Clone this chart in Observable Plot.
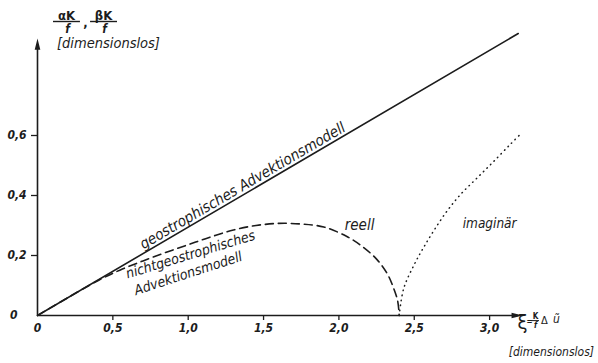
<!DOCTYPE html>
<html>
<head>
<meta charset="utf-8">
<script src="https://cdn.jsdelivr.net/npm/d3@7"></script>
<script src="https://cdn.jsdelivr.net/npm/@observablehq/plot@0.6"></script>
<style>
  html, body { margin: 0; padding: 0; background: #fff; }
</style>
</head>
<body>
<div id="chart"></div>
<script>
// Geostrophic advection model: straight line through the origin
const geoXi  = [0, 3.19];
const geoVal = [0, 0.94];

// Non-geostrophic advection model, real branch (dashed)
const realXi  = [0, 0.2, 0.4, 0.55, 0.7, 0.85, 1.0, 1.15, 1.3, 1.45, 1.6, 1.75, 1.9, 2.05, 2.15, 2.25, 2.32, 2.36, 2.39, 2.4];
const realVal = [0, 0.059, 0.116, 0.152, 0.182, 0.21, 0.236, 0.262, 0.285, 0.3, 0.307, 0.305, 0.295, 0.264, 0.232, 0.188, 0.14, 0.095, 0.048, 0];

// Imaginary branch (dotted)
const imagXi  = [2.4, 2.43, 2.5, 2.56, 2.63, 2.72, 2.81, 2.92, 3.03, 3.14, 3.21];
const imagVal = [0, 0.09, 0.17, 0.225, 0.283, 0.35, 0.405, 0.46, 0.515, 0.572, 0.607];

// Axis ticks and their labels
const xTicks = [0.5, 1, 1.5, 2, 2.5, 3];
const xTickLabels = ["0,5", "1,0", "1,5", "2,0", "2,5", "3,0"];
const yTicks = [0.2, 0.4, 0.6];
const yTickLabels = ["0,2", "0,4", "0,6"];

// Axis extents (arrow tips)
const xAxisEnd = 3.22;
const yAxisEnd = 0.923;

const ink = "#1c1c1c";
const font = "'DejaVu Sans Condensed', 'DejaVu Sans', sans-serif";

const toRows = (xs, vs) => xs.map((xi, i) => ({xi, v: vs[i]}));
const geo  = toRows(geoXi, geoVal);
const real = toRows(realXi, realVal);
const imag = toRows(imagXi, imagVal);

// Narrow filled arrowhead, tip at the anchor point, pointing up
const arrowHead = {
  draw(ctx, size) {
    const s = Math.sqrt(size / Math.PI);
    ctx.moveTo(0, 0);
    ctx.lineTo(-0.7 * s, 2.8 * s);
    ctx.lineTo(0.7 * s, 2.8 * s);
    ctx.closePath();
  }
};

// Curve labels (data coordinates)
const curveLabels = [
  {text: "geostrophisches Advektionsmodell", x: 1.36, y: 0.432, rotate: -30.4, size: 15},
  {text: "nichtgeostrophisches", x: 1.015, y: 0.203, rotate: -17, size: 14},
  {text: "Advektionsmodell", x: 1.0, y: 0.14, rotate: -18, size: 14},
  {text: "reell", x: 2.137, y: 0.30, rotate: 0, size: 15},
  {text: "imaginär", x: 3.0, y: 0.307, rotate: 0, size: 13.5}
];

// Axis titles: upright symbols
const titleUpright = [
  {text: "αK", x: 0.192, y: 1.0, size: 13},
  {text: ",", x: 0.318, y: 0.975, size: 13},
  {text: "βK", x: 0.438, y: 1.0, size: 13},
  {text: "K", x: 3.305, y: -0.003, size: 8},
  {text: "=", x: 3.265, y: -0.02, size: 8}
];
// Axis titles: italic symbols
const titleItalic = [
  {text: "f", x: 0.199, y: 0.953, size: 12},
  {text: "f", x: 0.445, y: 0.953, size: 12},
  {text: "f", x: 3.305, y: -0.034, size: 8}
];
// Axis titles: plain-weight parts
const titlePlain = [
  {text: "ξ", x: 3.218, y: -0.025, size: 20, style: "normal"},
  {text: "Δ", x: 3.364, y: -0.017, size: 11, style: "normal"},
  {text: "ũ", x: 3.444, y: -0.012, size: 12, style: "italic"}
];
const unitLabels = [
  {text: "[dimensionslos]", x: 0.471, y: 0.907, size: 14.5},
  {text: "[dimensionslos]", x: 3.41, y: -0.123, size: 12}
];

const fractionBars = [
  {x1: 0.106, x2: 0.285, y: 0.98, w: 1.4},
  {x1: 0.352, x2: 0.531, y: 0.98, w: 1.4},
  {x1: 3.278, x2: 3.331, y: -0.017, w: 1}
];

const label = (rows, opts = {}) => Plot.text(rows, {
  x: "x", y: "y", text: "text",
  fontSize: "size",
  fill: ink,
  fontFamily: font,
  textAnchor: "middle",
  lineAnchor: "middle",
  ...opts
});

const tickText = {fontSize: 12, fontStyle: "italic", fontWeight: "bold", label: null};

const chart = Plot.plot({
  width: 598,
  height: 363,
  marginLeft: 37,
  marginRight: 3.4,
  marginTop: 0,
  marginBottom: 48,
  x: {domain: [0, 3.7]},
  y: {domain: [0, 1.05]},
  style: {background: "#fff", color: ink, fontFamily: font},
  marks: [
    // Axes with arrowheads
    Plot.ruleY([0], {x1: 0, x2: xAxisEnd - 0.03, stroke: ink, strokeWidth: 1.6}),
    Plot.ruleX([0], {y1: 0, y2: yAxisEnd - 0.02, stroke: ink, strokeWidth: 1.6}),
    Plot.dot([{x: xAxisEnd, y: 0}], {x: "x", y: "y", symbol: arrowHead, r: 4, rotate: 90, fill: ink, stroke: "none"}),
    Plot.dot([{x: 0, y: yAxisEnd}], {x: "x", y: "y", symbol: arrowHead, r: 4, fill: ink, stroke: "none"}),

    Plot.axisX({ticks: xTicks, tickFormat: d => xTickLabels[xTicks.indexOf(d)], tickSize: 5, tickPadding: 3,
      stroke: ink, strokeWidth: 1.3, ...tickText}),
    Plot.axisX({ticks: [0], tickFormat: () => "0", tickSize: 0, tickPadding: 8, ...tickText}),
    Plot.axisY({ticks: yTicks, tickFormat: d => yTickLabels[yTicks.indexOf(d)], tickSize: 6, tickPadding: 5,
      stroke: ink, strokeWidth: 1.3, ...tickText}),
    Plot.axisY({ticks: [0], tickFormat: () => "0", tickSize: 0, tickPadding: 20, ...tickText}),

    // Curves
    Plot.line(geo, {x: "xi", y: "v", stroke: ink, strokeWidth: 1.6}),
    Plot.line(real, {x: "xi", y: "v", stroke: ink, strokeWidth: 1.6, strokeDasharray: "8,5", curve: "catmull-rom"}),
    Plot.line(imag, {x: "xi", y: "v", stroke: ink, strokeWidth: 1.5, strokeDasharray: "0.5,4.5", strokeLinecap: "round", curve: "catmull-rom"}),

    // Curve labels
    label(curveLabels, {rotate: "rotate", fontStyle: "italic"}),

    // Axis titles
    Plot.ruleY(fractionBars, {x1: "x1", x2: "x2", y: "y", stroke: ink, strokeWidth: "w"}),
    label(titleUpright, {fontWeight: "bold"}),
    label(titleItalic, {fontWeight: "bold", fontStyle: "italic"}),
    label(titlePlain.filter(d => d.style === "normal")),
    label(titlePlain.filter(d => d.style === "italic"), {fontStyle: "italic"}),
    label(unitLabels, {fontStyle: "italic"})
  ]
});

document.getElementById("chart").append(chart);
</script>
</body>
</html>
